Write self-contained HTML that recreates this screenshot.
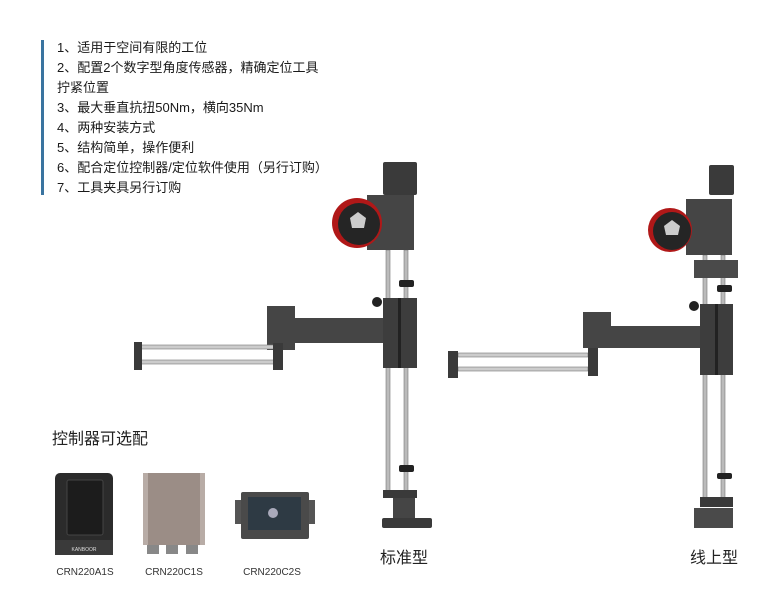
<!DOCTYPE html>
<html><head><meta charset="utf-8"><style>
html,body{margin:0;padding:0;background:#fff}
body{width:757px;height:594px;position:relative;overflow:hidden;font-family:"Liberation Sans","Noto Sans CJK SC",sans-serif;color:#1a1a1a}
.bar{position:absolute;left:41px;top:40px;width:3px;height:155px;background:#3a74a0}
.t{position:absolute;left:57px;font-size:13px;line-height:20px;white-space:nowrap}
</style></head><body>
<div class="bar"></div>
<div class="t" style="top:38px">1、适用于空间有限的工位</div>
<div class="t" style="top:58px">2、配置2个数字型角度传感器，精确定位工具</div>
<div class="t" style="top:78px">拧紧位置</div>
<div class="t" style="top:98px">3、最大垂直抗扭50Nm，横向35Nm</div>
<div class="t" style="top:118px">4、两种安装方式</div>
<div class="t" style="top:138px">5、结构简单，操作便利</div>
<div class="t" style="top:158px">6、配合定位控制器/定位软件使用（另行订购）</div>
<div class="t" style="top:178px">7、工具夹具另行订购</div>
<svg width="757" height="594" style="position:absolute;left:0;top:0" font-family="Liberation Sans, Noto Sans CJK SC, sans-serif">
<text x="52" y="444" font-size="16" fill="#222">控制器可选配</text>
<rect x="55" y="473" width="58" height="82" rx="5" fill="#2b2b2b"/>
<rect x="67" y="480" width="36" height="55" rx="2" fill="#1c1c1c" stroke="#444"/>
<rect x="55" y="540" width="58" height="15" fill="#3a3a3a"/>
<text x="84" y="551" font-size="5" fill="#ddd" text-anchor="middle">KANBOOR</text>
<rect x="143" y="473" width="62" height="72" fill="#9b8d86"/>
<rect x="143" y="473" width="5" height="72" fill="#b8aca6"/>
<rect x="200" y="473" width="5" height="72" fill="#b8aca6"/>
<rect x="147" y="545" width="12" height="9" fill="#888"/><rect x="166" y="545" width="12" height="9" fill="#888"/><rect x="186" y="545" width="12" height="9" fill="#888"/>
<rect x="235" y="500" width="8" height="24" fill="#555"/><rect x="307" y="500" width="8" height="24" fill="#555"/>
<rect x="241" y="492" width="68" height="47" rx="2" fill="#4a4a4a"/>
<rect x="248" y="497" width="53" height="33" fill="#2e3a44"/>
<circle cx="273" cy="513" r="5" fill="#aab"/>
<g font-size="10" fill="#333" text-anchor="middle"><text x="85" y="575">CRN220A1S</text><text x="174" y="575">CRN220C1S</text><text x="272" y="575">CRN220C2S</text></g>
<text x="380" y="563" font-size="16" fill="#222">标准型</text>
<text x="690" y="563" font-size="16" fill="#222">线上型</text>

<g>
<rect x="386" y="250" width="4" height="245" fill="#bbb" stroke="#777" stroke-width="0.6"/>
<rect x="404" y="250" width="4" height="245" fill="#bbb" stroke="#777" stroke-width="0.6"/>
<rect x="383" y="162" width="34" height="33" rx="2" fill="#3a3a3a"/>
<rect x="367" y="195" width="47" height="55" fill="#454545"/>
<circle cx="357" cy="223" r="25" fill="#b01818"/>
<circle cx="359" cy="224" r="21" fill="#252525"/>
<path d="M350 218 l8 -6 l8 6 l-2 10 l-12 0z" fill="#ccc"/>
<rect x="399" y="280" width="15" height="7" rx="2" fill="#222"/>
<circle cx="377" cy="302" r="5" fill="#222"/>
<rect x="383" y="298" width="34" height="70" fill="#3d3d3d"/>
<rect x="398" y="298" width="3" height="70" fill="#222"/>
<rect x="295" y="318" width="88" height="25" fill="#454545"/>
<rect x="267" y="306" width="28" height="44" fill="#454545"/>
<rect x="137" y="345" width="138" height="4" fill="#ccc" stroke="#777" stroke-width="0.6"/>
<rect x="137" y="360" width="138" height="4" fill="#ccc" stroke="#777" stroke-width="0.6"/>
<rect x="134" y="342" width="8" height="28" fill="#3a3a3a"/>
<rect x="273" y="343" width="10" height="27" fill="#3a3a3a"/>
<rect x="399" y="465" width="15" height="7" rx="2" fill="#222"/>
<rect x="383" y="490" width="34" height="8" fill="#3a3a3a"/>
<rect x="393" y="498" width="22" height="20" fill="#454545"/>
<rect x="382" y="518" width="50" height="10" rx="2" fill="#3a3a3a"/>
</g>

<g>
<rect x="703" y="255" width="4" height="245" fill="#bbb" stroke="#777" stroke-width="0.6"/>
<rect x="721" y="255" width="4" height="245" fill="#bbb" stroke="#777" stroke-width="0.6"/>
<rect x="709" y="165" width="25" height="30" rx="2" fill="#3a3a3a"/>
<rect x="686" y="199" width="46" height="56" fill="#454545"/>
<circle cx="670" cy="230" r="22" fill="#b01818"/>
<circle cx="672" cy="231" r="19" fill="#252525"/>
<path d="M664 226 l8 -6 l8 6 l-2 9 l-12 0z" fill="#ccc"/>
<rect x="694" y="260" width="44" height="18" fill="#4a4a4a"/>
<rect x="717" y="285" width="15" height="7" rx="2" fill="#222"/>
<circle cx="694" cy="306" r="5" fill="#222"/>
<rect x="700" y="304" width="33" height="71" fill="#3d3d3d"/>
<rect x="715" y="304" width="3" height="71" fill="#222"/>
<rect x="611" y="326" width="89" height="22" fill="#454545"/>
<rect x="583" y="312" width="28" height="36" fill="#454545"/>
<rect x="458" y="353" width="130" height="4" fill="#ccc" stroke="#777" stroke-width="0.6"/>
<rect x="458" y="367" width="130" height="4" fill="#ccc" stroke="#777" stroke-width="0.6"/>
<rect x="448" y="351" width="10" height="27" fill="#3a3a3a"/>
<rect x="588" y="348" width="10" height="28" fill="#3a3a3a"/>
<rect x="717" y="473" width="15" height="6" rx="2" fill="#222"/>
<rect x="700" y="497" width="33" height="10" fill="#3a3a3a"/>
<rect x="694" y="508" width="39" height="20" fill="#4a4a4a"/>
</g>
</svg>
</body></html>
